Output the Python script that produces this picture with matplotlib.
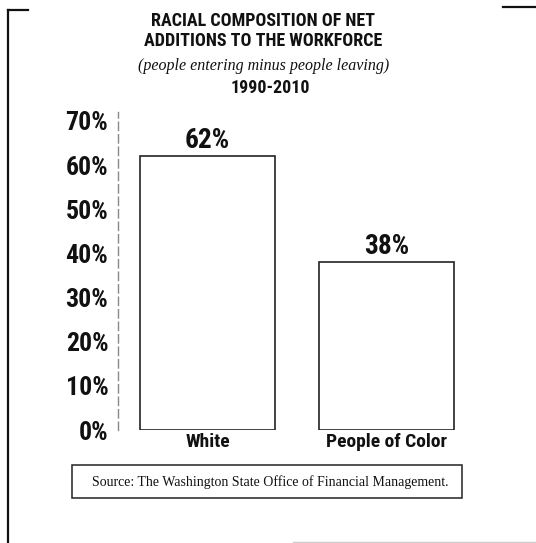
import matplotlib
matplotlib.use("Agg")
import matplotlib.pyplot as plt
from matplotlib import font_manager
from matplotlib.lines import Line2D
from matplotlib.patches import Rectangle

# Data
categories = ["White", "People of Color"]
shares = [62, 38]
tick_values = [0, 10, 20, 30, 40, 50, 60, 70]
tick_labels = ["0%", "10%", "20%", "30%", "40%", "50%", "60%", "70%"]

title_lines = ["RACIAL COMPOSITION OF NET", "ADDITIONS TO THE WORKFORCE"]
subtitle = "(people entering minus people leaving)"
period = "1990-2010"
source = "Source: The Washington State Office of Financial Management."

# Pick a narrow bold sans face if one is installed
fonts = font_manager.fontManager.ttflist
names = {f.name for f in fonts}
COND = dict(family="Roboto", weight="bold")
SHRINK = 0.9
for nm in ("Liberation Sans Narrow", "Roboto Condensed", "Open Sans Condensed",
           "Noto Sans Condensed"):
    if nm in names:
        COND = dict(family=nm, weight="bold")
        SHRINK = 1.0
        break
else:
    cond_dejavu = [f for f in fonts if f.name == "DejaVu Sans"
                   and "Condensed" in f.fname]
    if cond_dejavu:
        COND = dict(family="DejaVu Sans", weight="bold", stretch="condensed")
        SHRINK = 0.93
SERIF = "Liberation Serif" if "Liberation Serif" in names else "DejaVu Serif"


def cfont(size):
    d = dict(COND)
    d["fontsize"] = size * SHRINK
    return d


W, H = 536, 543
fig = plt.figure(figsize=(W / 100, H / 100), dpi=100)
fig.patch.set_facecolor("white")


def fx(px):
    return px / W


def fy(py):
    return 1 - py / H


# Plot area
ax_left, ax_right, ax_top, ax_bottom = 118, 480, 112, 430
ax = fig.add_axes([fx(ax_left), fy(ax_bottom), fx(ax_right - ax_left),
                   (ax_bottom - ax_top) / H])
ax.set_facecolor("none")

x = list(range(len(categories)))
bars = ax.bar(x, shares, width=0.754, color="white", edgecolor="#222222",
              linewidth=1.2)
ax.set_xlim(-0.5, 1.522)
ax.set_ylim(0, 72)

for b, v in zip(bars, shares):
    ax.annotate(f"{v}%", (b.get_x() + b.get_width() / 2, v),
                xytext=(0, 1.5), textcoords="offset points",
                ha="center", va="bottom", color="#111111", **cfont(19.7))

ax.set_yticks(tick_values)
ax.set_yticklabels(tick_labels, color="#111111", **cfont(18.6))
ax.set_xticks(x)
ax.set_xticklabels(categories, color="#111111", **cfont(14))
ax.tick_params(axis="y", length=0, pad=7)
ax.tick_params(axis="x", length=0, pad=2)

for side in ("top", "right", "bottom"):
    ax.spines[side].set_visible(False)
ax.spines["left"].set_color("#888888")
ax.spines["left"].set_linewidth(1.0)
ax.spines["left"].set_linestyle((0, (6, 3)))

# Titles
fig.text(fx(263), fy(21.5), title_lines[0], ha="center", va="center",
         color="#111111", **cfont(13))
fig.text(fx(263), fy(40.5), title_lines[1], ha="center", va="center",
         color="#111111", **cfont(13))
fig.text(fx(264), fy(66), subtitle, ha="center", va="center",
         family=SERIF, style="italic", fontsize=11.5, color="#111111")
fig.text(fx(270), fy(88), period, ha="center", va="center",
         color="#111111", **cfont(13))

# Source box
fig.add_artist(Rectangle((fx(72), fy(498)), fx(462 - 72), (498 - 465) / H,
                         transform=fig.transFigure, facecolor="none",
                         edgecolor="#222222", linewidth=1.1))
fig.text(fx(270), fy(482), source, ha="center", va="center",
         family=SERIF, fontsize=10, color="#111111")

# Page frame marks
frame = dict(transform=fig.transFigure, color="#111111", linewidth=1.6)
fig.add_artist(Line2D([fx(8), fx(8)], [fy(10), fy(543)], **frame))
fig.add_artist(Line2D([fx(8), fx(28)], [fy(10), fy(10)], **frame))
fig.add_artist(Line2D([fx(503), fx(536)], [fy(7), fy(7)], **frame))
fig.add_artist(Line2D([fx(293), fx(536)], [fy(541.5), fy(541.5)],
                      transform=fig.transFigure, color="#cccccc",
                      linewidth=1.0))

fig.savefig("out.png", dpi=100, facecolor="white")
